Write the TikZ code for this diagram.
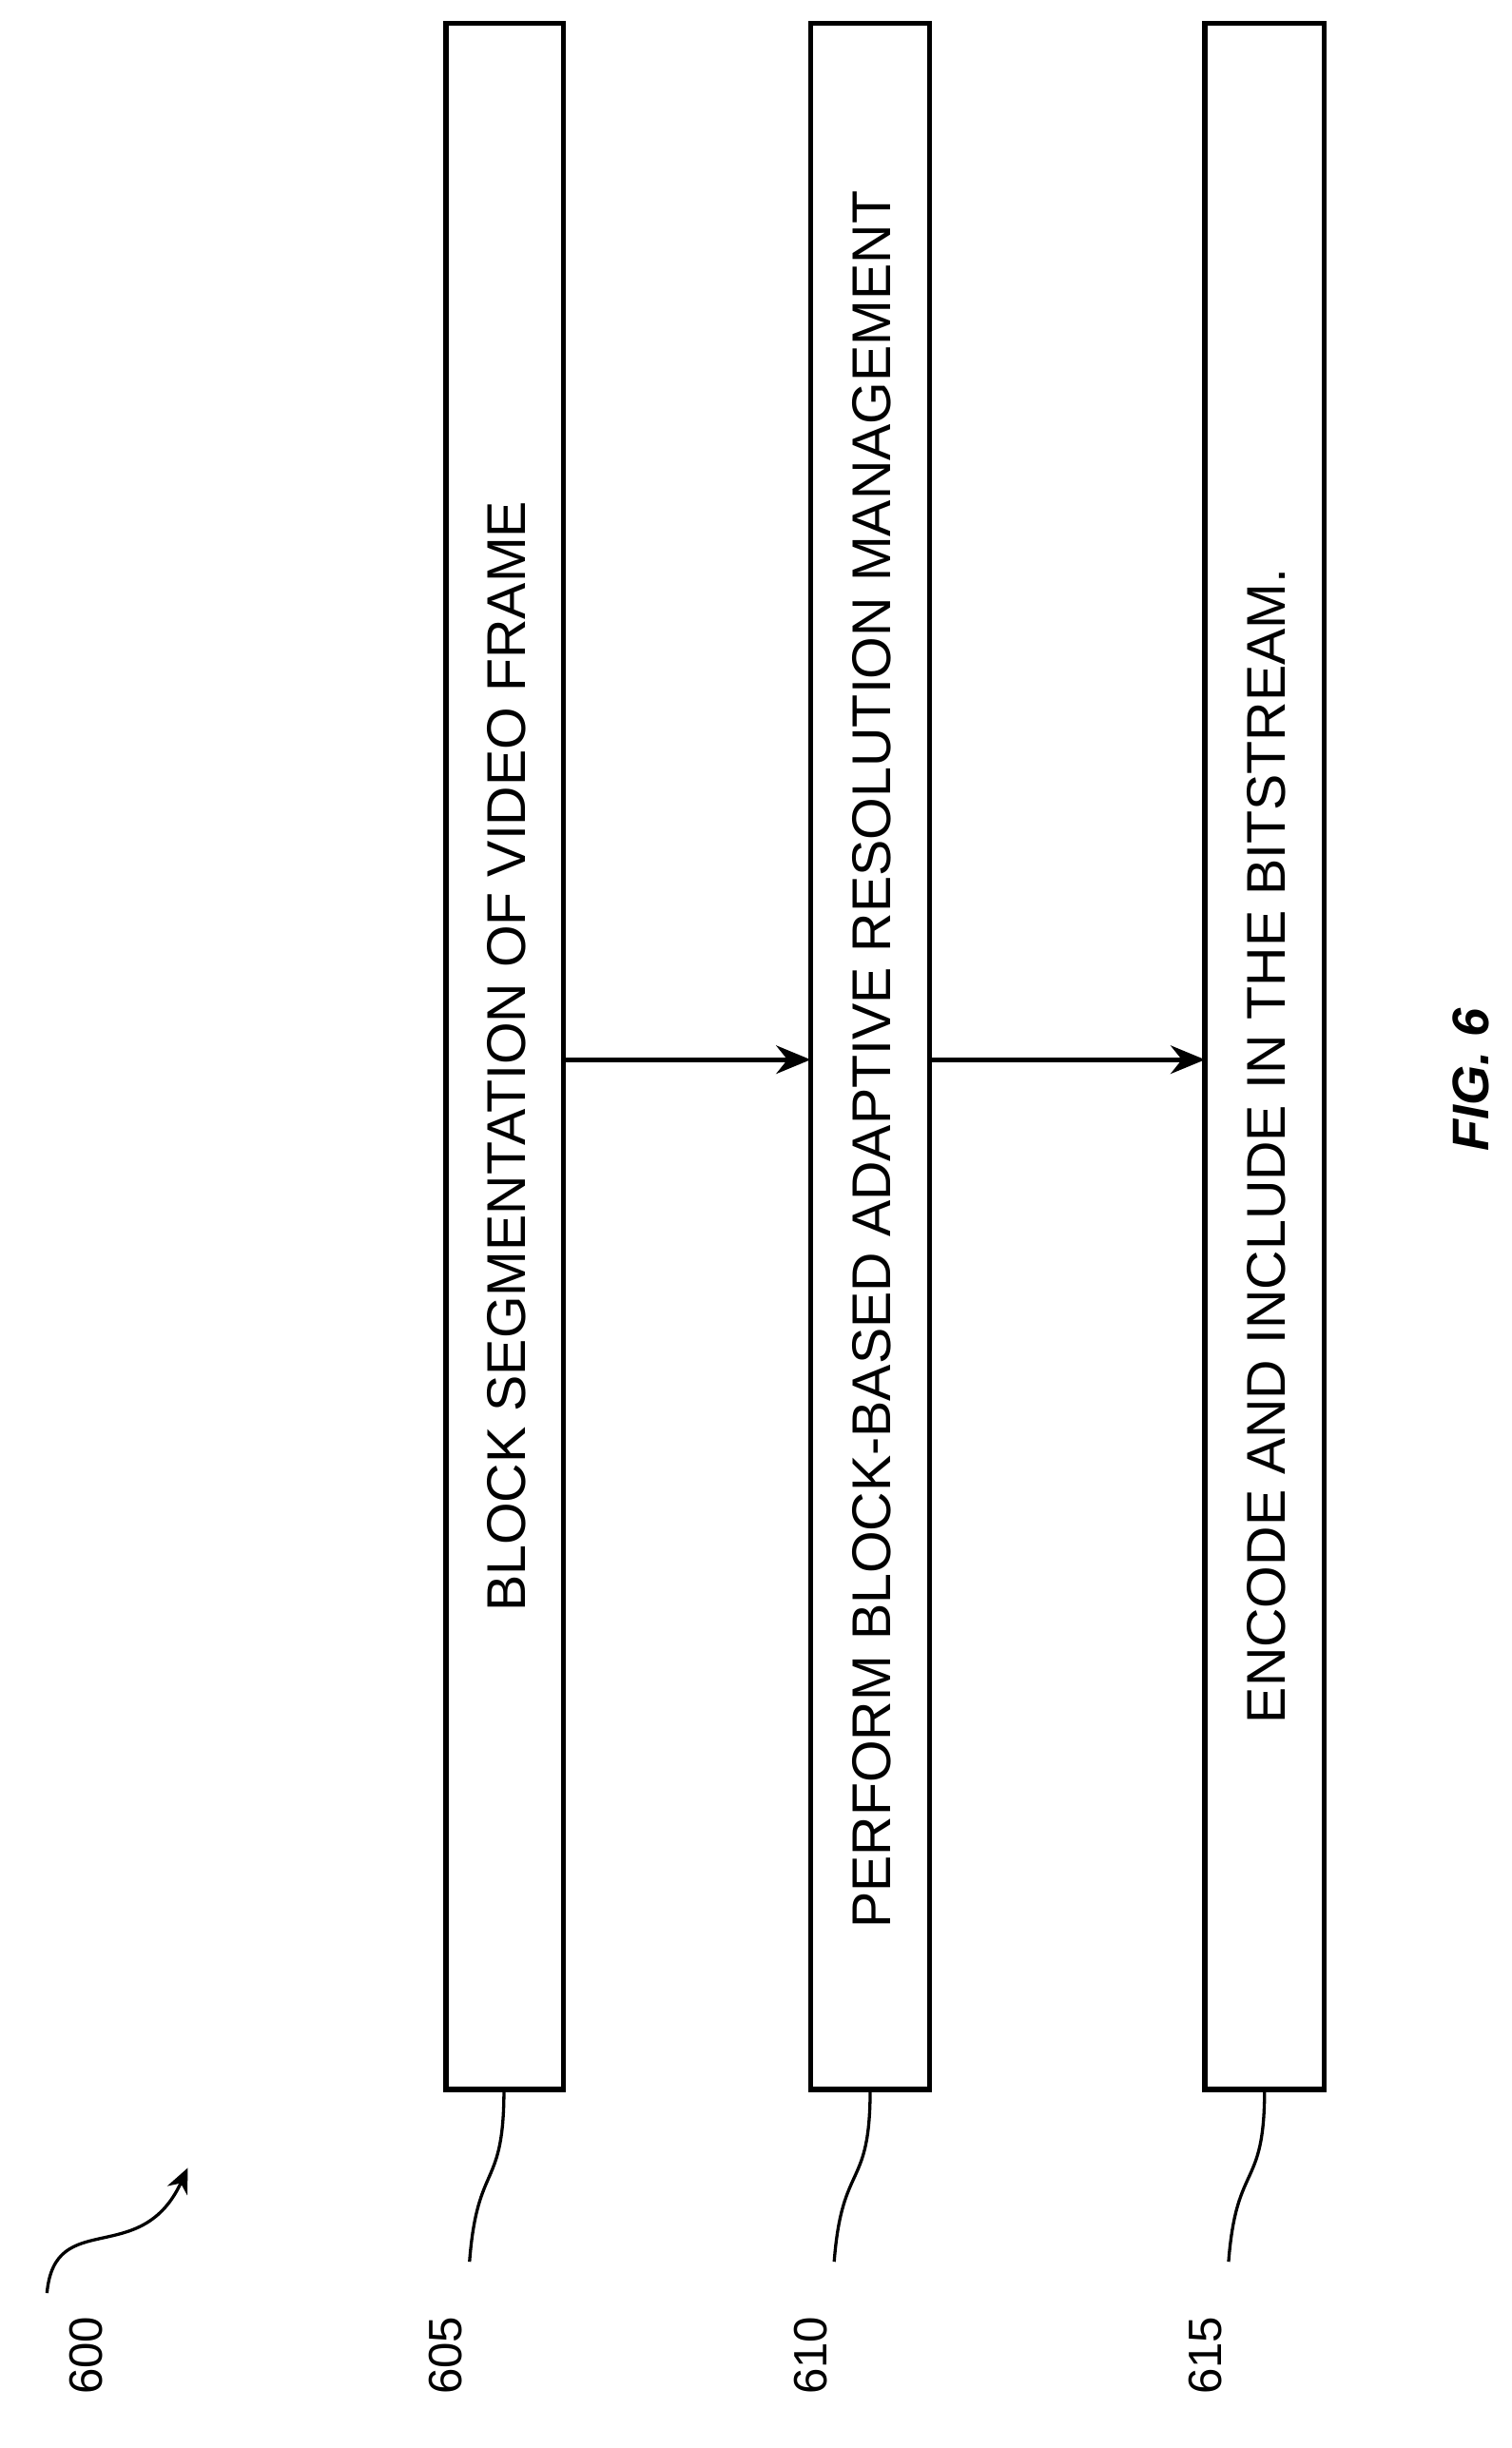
\documentclass[tikz,border=0pt]{standalone}
\usepackage{fontspec}
\setmainfont{Liberation Sans}
\usetikzlibrary{arrows.meta}
\begin{document}
\begin{tikzpicture}[x=1bp,y=-1bp,
  stepbox/.style={draw,line width=3.4bp},
  txt/.style={rotate=90,font=\fontsize{35}{35}\selectfont,inner sep=0},
  lbl/.style={rotate=90,font=\fontsize{30}{30}\selectfont,inner sep=0},
  conn/.style={line width=3bp,-{Stealth[length=22bp,width=18bp]}},
  lead/.style={line width=2bp}]
\useasboundingbox (0,0) rectangle (966,1564);
\draw[stepbox] (285,15) rectangle (360,1335);
\draw[stepbox] (518,15) rectangle (594,1335);
\draw[stepbox] (770,15) rectangle (846,1335);
\node[txt] (t1) at (324,675) {BLOCK SEGMENTATION OF VIDEO FRAME};
\node[txt] (t2) at (557,677) {PERFORM BLOCK-BASED ADAPTIVE RESOLUTION MANAGEMENT};
\node[txt] (t3) at (809,732) {ENCODE AND INCLUDE IN THE BITSTREAM.};
\coordinate (b1r) at (360,677); \coordinate (b2l) at (518,677);
\coordinate (b2r) at (594,677); \coordinate (b3l) at (770,677);
\draw[conn] (b1r) -- (b2l);
\draw[conn] (b2r) -- (b3l);
\node[lbl] (l605) at (285,1505) {605};
\node[lbl] (l610) at (518,1505) {610};
\node[lbl] (l615) at (770,1505) {615};
\node[lbl] (l600) at (55,1505) {600};
\draw[lead] (322,1335) .. controls (322,1400) and (305,1380) .. (300,1445);
\draw[lead] (556,1335) .. controls (556,1400) and (538,1380) .. (533,1445);
\draw[lead] (808,1335) .. controls (808,1400) and (790,1380) .. (785,1445);
\draw[lead,-{Stealth[length=16bp,width=14bp]}] (30,1465) .. controls (35,1410) and (90,1450) .. (120,1385);
\node[rotate=90,font=\fontsize{33}{33}\selectfont\bfseries\itshape,inner sep=0] (fig) at (940,690) {FIG. 6};
\end{tikzpicture}
\end{document}
